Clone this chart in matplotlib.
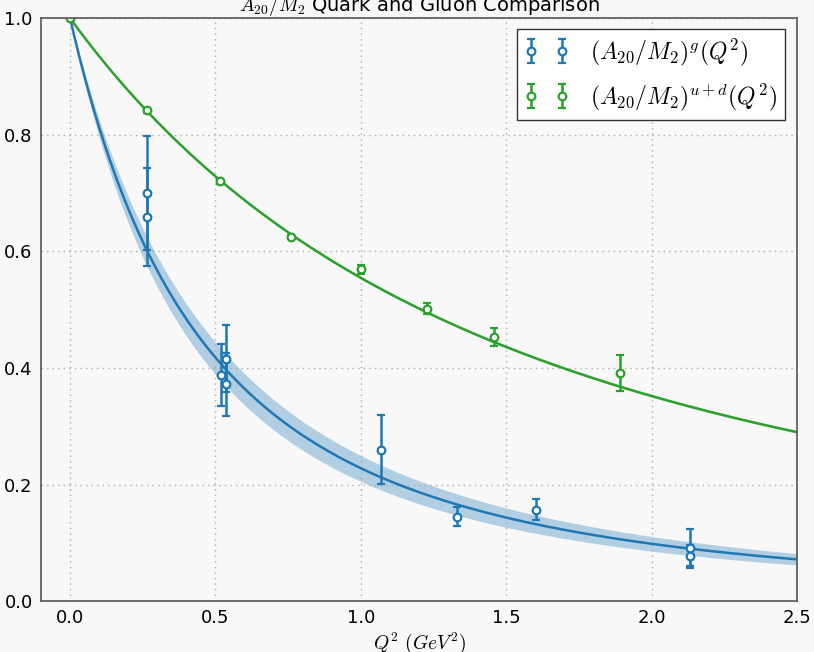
import numpy as np
import matplotlib
matplotlib.use("Agg")
import matplotlib.pyplot as plt

plt.rcParams["mathtext.fontset"] = "cm"

# gluon lattice points
g_q2 = [0.266, 0.266, 0.518, 0.535, 0.535, 1.068, 1.331, 1.601, 2.132, 2.132]
g_val = [0.700, 0.659, 0.388, 0.416, 0.372, 0.260, 0.145, 0.157, 0.0915, 0.077]
g_err = [0.098, 0.084, 0.053, 0.057, 0.054, 0.059, 0.016, 0.018, 0.032, 0.020]

# quark (u+d) lattice points
q_q2 = [0.0, 0.266, 0.516, 0.761, 1.000, 1.229, 1.458, 1.891]
q_val = [1.000, 0.842, 0.720, 0.625, 0.569, 0.502, 0.453, 0.392]
q_err = [0.002, 0.004, 0.004, 0.004, 0.008, 0.010, 0.015, 0.031]

# dipole fit masses (GeV^2) and uncertainties
g_m2, g_m2_err = 0.914, 0.085
q_m2, q_m2_err = 2.917, 0.02

blue = "#1f77b4"
green = "#2ca02c"
bg = "#f8f8f8"


def dipole(q2, m2):
    return 1.0 / (1.0 + q2 / m2) ** 2


fig = plt.figure(figsize=(8.14, 6.52), dpi=100, facecolor=bg)
ax = fig.add_axes([0.0504, 0.078, 0.9287, 0.894], facecolor=bg)

q2 = np.linspace(0, 2.5, 300)

# fit bands + lines
ax.fill_between(q2, dipole(q2, g_m2 - g_m2_err), dipole(q2, g_m2 + g_m2_err),
                color=blue, alpha=0.32, lw=0)
ax.plot(q2, dipole(q2, g_m2), color=blue, lw=1.8)
ax.fill_between(q2, dipole(q2, q_m2 - q_m2_err), dipole(q2, q_m2 + q_m2_err),
                color=green, alpha=0.3, lw=0)
ax.plot(q2, dipole(q2, q_m2), color=green, lw=1.8)

ax.errorbar(g_q2, g_val, yerr=g_err, fmt="o", color=blue, mfc="white",
            mec=blue, mew=1.6, ms=5.5, elinewidth=1.8, capsize=3, capthick=1.8,
            label=r"$(A_{20}/M_2)^g(Q^2)$")
ax.errorbar(q_q2, q_val, yerr=q_err, fmt="o", color=green, mfc="white",
            mec=green, mew=1.6, ms=5.5, elinewidth=1.8, capsize=3, capthick=1.8,
            label=r"$(A_{20}/M_2)^{u+d}(Q^2)$")

ax.set_xlim(-0.1, 2.5)
ax.set_ylim(0, 1.0)
ax.set_xticks([0.0, 0.5, 1.0, 1.5, 2.0, 2.5])
ax.set_yticks([0.0, 0.2, 0.4, 0.6, 0.8, 1.0])
ax.tick_params(length=0, labelsize=13, pad=6)
ax.grid(True, color="#aaaaaa", linestyle=(0, (1, 3)), linewidth=1.0)
for s in ax.spines.values():
    s.set_color("#555555")
    s.set_linewidth(1.2)

ax.set_xlabel(r"$Q^2\ (GeV^2)$", fontsize=14, labelpad=2)
ax.set_title(r"$A_{20}/M_2$ Quark and Gluon Comparison", fontsize=14, pad=3)

leg = ax.legend(loc="upper right", numpoints=2, fontsize=17, fancybox=False,
                framealpha=1.0, edgecolor="#333333", borderpad=0.3,
                handlelength=1.9, handletextpad=0.9, labelspacing=0.6,
                borderaxespad=0, bbox_to_anchor=(0.984, 0.981))
leg.get_frame().set_linewidth(1.0)

fig.savefig("out.png", dpi=100, facecolor=bg)
